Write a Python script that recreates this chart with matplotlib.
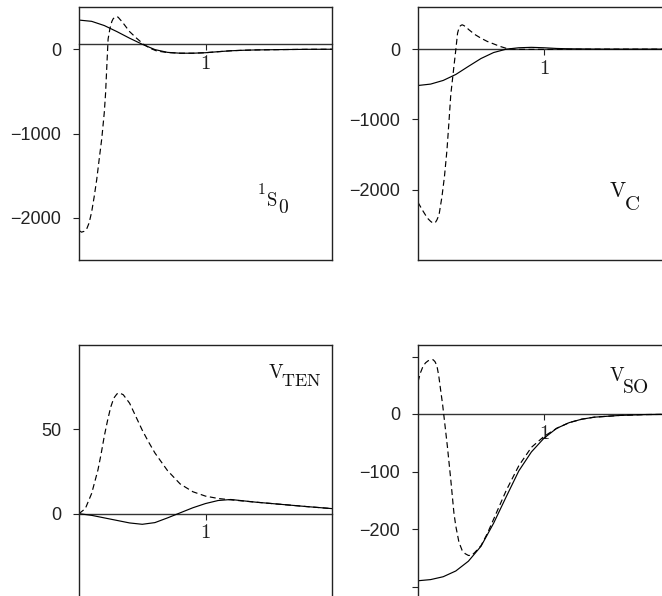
import matplotlib
matplotlib.use("Agg")
import matplotlib.pyplot as plt

plt.rcParams['font.family'] = ['Liberation Sans', 'DejaVu Sans']
plt.rcParams['mathtext.fontset'] = 'cm'

# ---------------- data (r in fm, V in MeV) ----------------
# 1S0 panel
s0_solid_r = [0.00, 0.10, 0.20, 0.30, 0.40, 0.50, 0.60, 0.70, 0.80, 0.90, 1.00,
              1.10, 1.20, 1.30, 1.40, 1.50, 1.60, 1.80, 2.00]
s0_solid_v = [345, 330, 280, 208, 130, 58, -5, -38, -48, -48, -42,
              -30, -19, -13, -9, -7, -5, -2, -1]
s0_dash_r = [0.00, 0.02, 0.04, 0.06, 0.08, 0.10, 0.12, 0.14, 0.16, 0.18, 0.20,
             0.21, 0.22, 0.23, 0.245, 0.26, 0.27, 0.28, 0.29, 0.30, 0.31, 0.32,
             0.335, 0.35, 0.40, 0.455, 0.51, 0.56, 0.615, 0.70, 0.80, 0.90,
             1.00, 1.10, 1.20, 1.30, 1.40, 1.50, 1.60, 1.80, 2.00]
s0_dash_v = [-2150, -2170, -2160, -2135, -2060, -1930, -1750, -1547, -1300, -1060, -750,
             -524, -200, 120, 248, 330, 360, 375, 384, 386, 378, 360,
             335, 307, 208, 130, 59, 12, -22, -40, -48, -48,
             -42, -30, -19, -13, -9, -7, -5, -2, -1]

# V_C panel
vc_solid_r = [0.00, 0.10, 0.20, 0.30, 0.40, 0.50, 0.60, 0.70, 0.80, 0.90, 1.00,
              1.10, 1.20, 1.40, 1.60, 2.00]
vc_solid_v = [-517, -497, -445, -360, -245, -133, -48, 0, 20, 26, 20,
              10, 5, 1, 0, 0]
vc_dash_r = [0.00, 0.035, 0.075, 0.10, 0.115, 0.127, 0.14, 0.15, 0.167, 0.19, 0.21,
             0.23, 0.245, 0.26, 0.285, 0.30, 0.314, 0.325, 0.335, 0.345, 0.352,
             0.365, 0.38, 0.405, 0.45, 0.50, 0.55, 0.60, 0.65, 0.70, 0.75,
             0.80, 1.00, 1.20, 1.50, 2.00]
vc_dash_v = [-2180, -2290, -2405, -2450, -2470, -2475, -2460, -2430, -2357, -2100, -1812,
             -1432, -1053, -650, -247, -10, 228, 300, 330, 343, 346,
             335, 315, 275, 210, 156, 110, 75, 40, 12, 0,
             -3, -3, -1, 0, 0]

# V_TEN panel
vt_solid_r = [0.00, 0.10, 0.20, 0.30, 0.40, 0.50, 0.60, 0.70, 0.80, 0.90, 1.00,
              1.10, 1.20, 1.40, 1.60, 1.80, 2.00]
vt_solid_v = [0, -1, -2.5, -4, -5.5, -6.3, -5.3, -2.5, 0.5, 3.5, 6,
              7.8, 8.4, 6.8, 5.5, 4.2, 3]
vt_dash_r = [0.00, 0.05, 0.10, 0.125, 0.15, 0.175, 0.20, 0.225, 0.25, 0.275, 0.30,
             0.32, 0.35, 0.375, 0.40, 0.45, 0.50, 0.55, 0.60, 0.70, 0.80,
             0.90, 1.00, 1.10, 1.20, 1.40, 1.60, 1.80, 2.00]
vt_dash_v = [0, 3, 12, 19, 26, 35.5, 46, 55, 63, 68.5, 71,
             71.6, 70.5, 68, 65.5, 57.5, 49.5, 42.5, 36, 25.5, 17.6,
             13, 10.4, 9, 8.2, 6.8, 5.5, 4.2, 3]

# V_SO panel
vs_solid_r = [0.00, 0.10, 0.20, 0.30, 0.40, 0.50, 0.60, 0.70, 0.80, 0.90, 1.00,
              1.10, 1.20, 1.30, 1.40, 1.60, 1.80, 2.00]
vs_solid_v = [-290, -288, -283, -273, -256, -230, -190, -144, -99, -66, -42,
              -25, -15, -9, -5.5, -2.5, -1, -0.5]
vs_dash_r = [0.00, 0.02, 0.04, 0.06, 0.08, 0.10, 0.12, 0.135, 0.15, 0.165, 0.18,
             0.195, 0.205, 0.233, 0.26, 0.285, 0.30, 0.325, 0.35, 0.375, 0.40,
             0.425, 0.45, 0.50, 0.55, 0.60, 0.70, 0.80, 0.90, 1.00, 1.10,
             1.20, 1.30, 1.40, 1.60, 1.80, 2.00]
vs_dash_v = [56, 72, 83, 89, 92.5, 94.2, 94.4, 91, 84, 66, 41,
             17, -2, -56, -114, -172, -195, -223, -237, -243, -246,
             -246, -241, -229, -208, -183, -133, -90, -58, -39, -25,
             -15, -9, -5.5, -2.5, -1, -0.5]

# panel label parts: (pre-superscript, main, subscript)
label_parts = [('1', 'S', '0'), ('', 'V', 'C'), ('', 'V', 'TEN'), ('', 'V', 'SO')]
x_tick_vals = [1]
x_tick_labels = [r'$1$']

# ---------------- layout ----------------
W, H = 662, 596
fig = plt.figure(figsize=(W / 100, H / 100), dpi=100)


def px_rect(left, top, right, bottom):
    return [left / W, 1 - bottom / H, (right - left) / W, (bottom - top) / H]


panels = [
    dict(rect=px_rect(79, 7, 332, 260), solid=(s0_solid_r, s0_solid_v),
         dash=(s0_dash_r, s0_dash_v), ylim=(-2500, 500), yticks=[-2000, -1000, 0],
         ylabels=['\u22122000', '\u22121000', '0'], zero=59,
         parts=label_parts[0], lpos=(257, 203), sizes=(11, 13.5, 14),
         sub_dy=-2.5, sub_dx=0.6),
    dict(rect=px_rect(418, 7, 670, 260), solid=(vc_solid_r, vc_solid_v),
         dash=(vc_dash_r, vc_dash_v), ylim=(-3000, 600), yticks=[-2000, -1000, 0],
         ylabels=['\u22122000', '\u22121000', '0'], zero=0,
         parts=label_parts[1], lpos=(609, 197), sizes=(11, 15.5, 15),
         sub_dy=-6, sub_dx=-2.2),
    dict(rect=px_rect(79, 345, 332, 598), solid=(vt_solid_r, vt_solid_v),
         dash=(vt_dash_r, vt_dash_v), ylim=(-50, 100), yticks=[0, 50],
         ylabels=['0', '50'], zero=0,
         parts=label_parts[2], lpos=(268, 378), sizes=(11, 14, 13),
         sub_dy=-3, sub_dx=-2.2),
    dict(rect=px_rect(418, 345, 670, 598), solid=(vs_solid_r, vs_solid_v),
         dash=(vs_dash_r, vs_dash_v), ylim=(-320, 120),
         yticks=[-300, -200, -100, 0, 100],
         ylabels=['', '\u2212200', '\u2212100', '0', ''], zero=0,
         parts=label_parts[3], lpos=(609, 381), sizes=(11, 14, 14),
         sub_dy=-6, sub_dx=-2.2),
]

for p in panels:
    ax = fig.add_axes(p['rect'])
    ax.plot(*p['solid'], color='black', lw=0.85)
    ax.plot(*p['dash'], color='black', lw=0.85, ls=(0, (5, 3)))
    ax.set_xlim(0, 2)
    ax.set_ylim(*p['ylim'])
    ax.set_xticks([])
    ax.set_yticks(p['yticks'])
    ax.set_yticklabels(p['ylabels'])
    ax.tick_params(axis='y', direction='out', length=4, width=0.8, pad=9,
                   labelsize=13, colors='#222222')
    for sp in ax.spines.values():
        sp.set_linewidth(1.0)
        sp.set_color('#222222')
    lo, hi = p['ylim']
    frac = (p['zero'] - lo) / (hi - lo)
    sec = ax.secondary_xaxis(frac)
    sec.set_alignment('bottom')
    sec.set_xticks(x_tick_vals)
    sec.set_xticklabels(x_tick_labels)
    sec.tick_params(axis='x', direction='out', length=4, width=0.8, pad=3,
                    labelsize=15, colors='#222222')
    sec.spines['bottom'].set_linewidth(1.0)
    sec.spines['bottom'].set_color('#333333')

    # composed panel label: baseline of main letter at lpos (pixels from top-left)
    pre, main, sub = p['parts']
    s_pre, s_main, s_sub = p['sizes']
    x0 = p['lpos'][0] / W
    y0 = 1 - p['lpos'][1] / H
    if pre:
        anchor = fig.text(x0, y0 + 9.5 / H, '$\\mathrm{%s}$' % pre,
                          fontsize=s_pre, ha='left', va='baseline', color='#111111')
        t_main = ax.annotate('$\\mathrm{%s}$' % main, xy=(1, 0), xycoords=anchor,
                             xytext=(0.3, -9.5 * 0.72), textcoords='offset points',
                             fontsize=s_main, ha='left', va='baseline', color='#111111')
    else:
        t_main = fig.text(x0, y0, '$\\mathrm{%s}$' % main, fontsize=s_main,
                          ha='left', va='baseline', color='#111111')
    ax.annotate('$\\mathrm{%s}$' % sub, xy=(1, 0), xycoords=t_main,
                xytext=(p['sub_dx'], p['sub_dy']), textcoords='offset points',
                fontsize=s_sub, ha='left', va='baseline', color='#111111')

fig.savefig('out.png', dpi=100)
